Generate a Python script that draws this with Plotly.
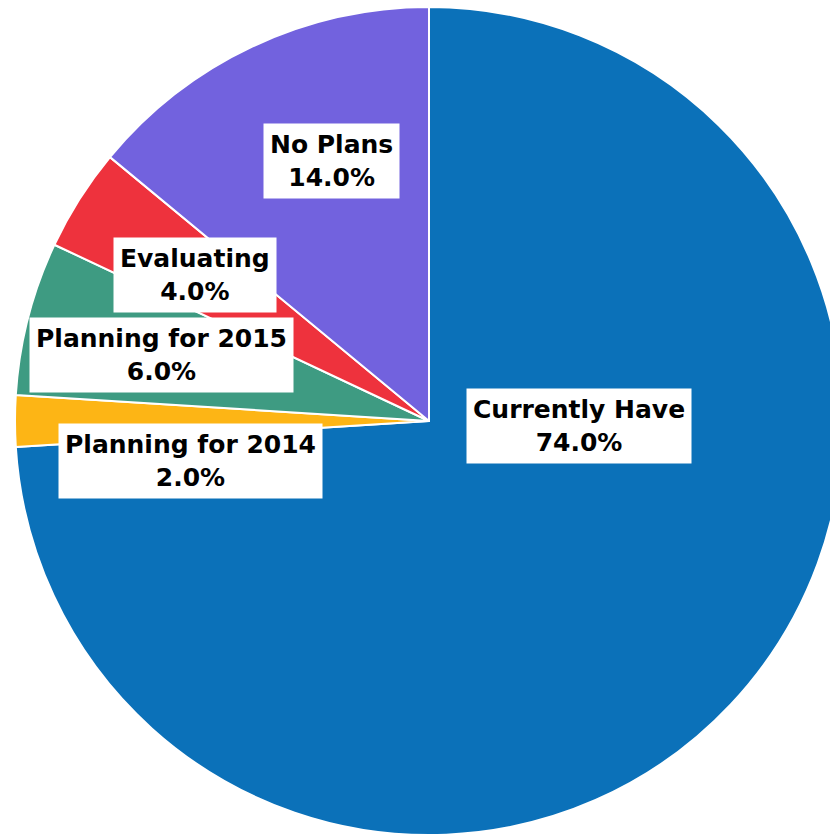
import plotly.graph_objects as go

# Data
categories = ["Currently Have", "Planning for 2014", "Planning for 2015", "Evaluating", "No Plans"]
values = [74.0, 2.0, 6.0, 4.0, 14.0]
colors = ["#0B71B9", "#FDB515", "#3E9B82", "#EE323D", "#7262DE"]

# Label box centres (pixels from top-left of the figure)
label_px = [(579, 426), (190, 461), (161, 355), (195, 275), (331, 161)]

W, H = 843, 836
cx, cy, r = 429, 421, 414

fig = go.Figure(go.Pie(
    labels=categories,
    values=values,
    sort=False,
    direction="clockwise",
    rotation=0,
    textinfo="none",
    hoverinfo="label+percent",
    marker=dict(colors=colors, line=dict(color="white", width=2)),
    domain=dict(x=[(cx - r) / W, (cx + r) / W], y=[(H - cy - r) / H, (H - cy + r) / H]),
    showlegend=False,
))

total = sum(values)
for cat, val, (px, py) in zip(categories, values, label_px):
    fig.add_annotation(
        x=px / W, y=1 - py / H, xref="paper", yref="paper",
        xanchor="center", yanchor="middle",
        text=f"<b>{cat}<br>{val / total * 100:.1f}%</b>",
        showarrow=False, bgcolor="white", borderpad=6,
        font=dict(family="DejaVu Sans", size=25, color="black"),
        align="center",
    )

fig.update_layout(
    width=W, height=H,
    margin=dict(l=0, r=0, t=0, b=0),
    paper_bgcolor="white", plot_bgcolor="white",
)

fig.write_html(
    "out.html",
    post_script="document.documentElement.style.overflow='hidden';document.body.style.overflow='hidden';document.body.style.margin='0';",
)
